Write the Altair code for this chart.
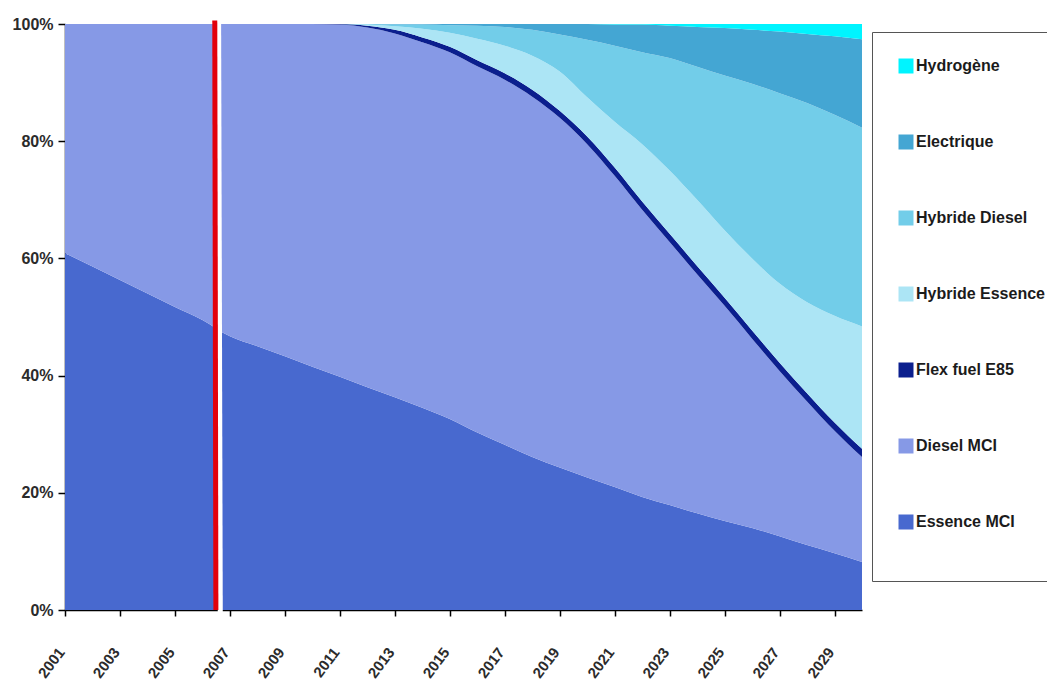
import altair as alt
import pandas as pd

# Parc automobile : répartition des motorisations (part en %), 2001-2030
years = list(range(2001, 2031))

essence_mci = [60.9, 58.6, 56.3, 54.0, 51.7, 49.5, 46.7, 45.0, 43.3, 41.5,
               39.8, 38.0, 36.3, 34.5, 32.6, 30.3, 28.2, 26.1, 24.3, 22.6,
               21.0, 19.3, 17.9, 16.5, 15.2, 14.0, 12.6, 11.1, 9.7, 8.2]
diesel_mci = [39.1, 41.4, 43.7, 46.0, 48.3, 50.5, 53.3, 55.0, 56.7, 58.5,
              60.1, 61.4, 62.1, 62.4, 62.6, 62.5, 62.3, 61.5, 59.7, 56.9,
              53.1, 49.0, 44.9, 40.8, 36.7, 32.3, 28.2, 24.5, 20.9, 17.9]
flex_fuel_e85 = [0, 0, 0, 0, 0, 0, 0, 0, 0, 0,
                 0.1, 0.3, 0.6, 0.8, 0.9, 1.0, 1.1, 1.2, 1.2, 1.3,
                 1.4, 1.4, 1.4, 1.4, 1.4, 1.4, 1.4, 1.4, 1.4, 1.4]
hybride_essence = [0, 0, 0, 0, 0, 0, 0, 0, 0, 0,
                   0, 0.2, 0.6, 1.5, 2.4, 3.7, 4.7, 5.8, 6.7, 6.7,
                   7.8, 9.8, 10.8, 11.3, 11.5, 12.3, 13.5, 15.5, 18.2, 20.9]
hybride_diesel = [0, 0, 0, 0, 0, 0, 0, 0, 0, 0,
                  0, 0.1, 0.3, 0.7, 1.3, 2.2, 3.2, 4.4, 6.3, 9.8,
                  13.0, 15.7, 19.2, 22.7, 26.4, 29.8, 32.5, 34.0, 34.3, 33.9]
electrique = [0, 0, 0, 0, 0, 0, 0, 0, 0, 0,
              0, 0, 0.1, 0.1, 0.2, 0.3, 0.5, 1.0, 1.8, 2.7,
              3.6, 4.7, 5.5, 6.8, 8.1, 9.2, 10.5, 11.8, 13.4, 15.1]
hydrogene = [0, 0, 0, 0, 0, 0, 0, 0, 0, 0,
             0, 0, 0, 0, 0, 0, 0, 0, 0, 0,
             0.1, 0.1, 0.3, 0.5, 0.7, 1.0, 1.3, 1.7, 2.1, 2.6]

# Stacking order, bottom to top
series_names = ["Essence MCI", "Diesel MCI", "Flex fuel E85", "Hybride Essence",
                "Hybride Diesel", "Electrique", "Hydrogène"]
series_values = [essence_mci, diesel_mci, flex_fuel_e85, hybride_essence,
                 hybride_diesel, electrique, hydrogene]
series_colors = ["#4869CF", "#8699E6", "#0B1F8E", "#ACE5F5",
                 "#72CDE9", "#44A6D3", "#00F4FF"]

# Year marking the present (vertical red separator)
separator_year = 2006.45

rows = []
for rank, (name, values) in enumerate(zip(series_names, series_values)):
    for year, value in zip(years, values):
        rows.append({"annee": year, "serie": name, "part": value, "rang": rank})
df = pd.DataFrame(rows)

font = "Liberation Sans"

x_scale = alt.Scale(domain=[2001, 2030], nice=False, zero=False)
y_scale = alt.Scale(domain=[0, 100], nice=False)

areas = alt.Chart(df).mark_area(interpolate="monotone").encode(
    x=alt.X(
        "annee:Q",
        scale=x_scale,
        title=None,
        axis=alt.Axis(
            values=years,
            labelExpr="(datum.value - 2001) % 2 == 0 ? '' + datum.value : ''",
            labelAngle=-53,
            labelAlign="right",
            labelBaseline="middle",
            labelPadding=33,
            labelOffset=-4,
            labelOverlap=False,
            labelFontSize=15,
            tickSize=6,
            grid=False,
        ),
    ),
    y=alt.Y(
        "part:Q",
        stack="zero",
        scale=y_scale,
        title=None,
        axis=alt.Axis(
            values=[0, 20, 40, 60, 80, 100],
            labelExpr="datum.value + '%'",
            labelFontSize=16,
            labelPadding=5,
            tickSize=7,
            grid=False,
        ),
    ),
    color=alt.Color(
        "serie:N",
        scale=alt.Scale(domain=series_names[::-1], range=series_colors[::-1]),
        legend=alt.Legend(
            orient="none",
            legendX=807,
            legendY=8,
            title=" ",
            titleOrient="bottom",
            titleFontSize=12,
            titlePadding=14,
            padding=26,
            rowPadding=60,
            symbolType="square",
            symbolSize=225,
            symbolStrokeWidth=0,
            symbolOpacity=1,
            labelFont=font,
            labelFontSize=16,
            labelFontWeight="bold",
            labelColor="#1b1b1b",
            labelOffset=2,
            labelLimit=300,
            strokeColor="#555555",
            fillColor="white",
        ),
    ),
    order=alt.Order("rang:Q", sort="ascending"),
)

marker = pd.DataFrame({
    "annee": [separator_year], "annee_fin": [separator_year + 0.04],
    "haut": [100.6], "bas": [0.0],
})
gap = pd.DataFrame({
    "annee": [separator_year + 0.14], "annee_fin": [separator_year + 0.2],
    "haut": [100.0], "bas": [-0.4],
})

gap_rule = alt.Chart(gap).mark_rule(color="white", strokeWidth=5).encode(
    x=alt.X("annee:Q", scale=x_scale, title=None),
    x2="annee_fin:Q",
    y=alt.Y("haut:Q", scale=y_scale, title=None),
    y2="bas:Q",
)
red_rule = alt.Chart(marker).mark_rule(color="#E2000C", strokeWidth=5).encode(
    x=alt.X("annee:Q", scale=x_scale, title=None),
    x2="annee_fin:Q",
    y=alt.Y("haut:Q", scale=y_scale, title=None),
    y2="bas:Q",
)

chart = alt.layer(areas, gap_rule, red_rule).properties(
    width=797,
    height=586,
    autosize=alt.AutoSizeParams(type="none"),
    padding={"left": 65, "top": 24, "right": 185, "bottom": 78},
).configure_view(
    strokeWidth=0,
).configure_axis(
    labelFont=font,
    labelFontWeight="bold",
    labelColor="#2b2b2b",
    domainColor="#000000",
    domainWidth=1.5,
    tickColor="#000000",
    tickWidth=1.5,
)

chart.save("out.html", embed_options={"renderer": "svg", "actions": False})
